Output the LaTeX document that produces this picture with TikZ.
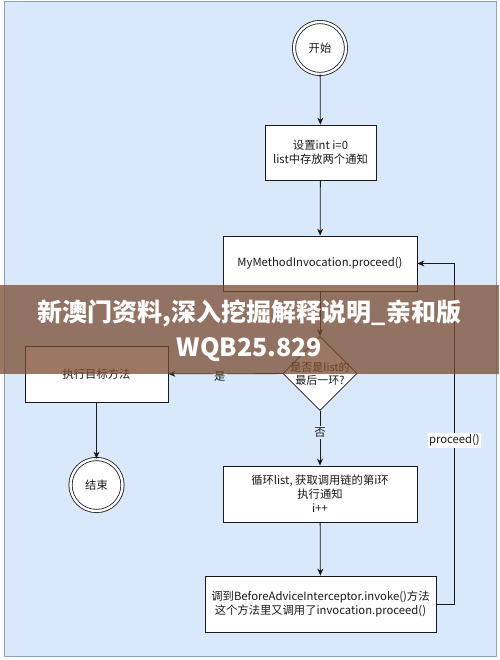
\documentclass[tikz,border=0pt]{standalone}
\usepackage{fontspec}
\setmainfont{Noto Sans CJK SC}
\usepackage{xcolor}
\usepackage{tikz}
\usetikzlibrary{arrows.meta, positioning, shapes.geometric, calc}
\definecolor{canvasblue}{RGB}{218,232,252}
\definecolor{canvasedge}{RGB}{140,162,196}
\definecolor{bannerbrown}{RGB}{123,76,49}
\definecolor{inkline}{RGB}{25,25,25}

\begin{document}
\begin{tikzpicture}[x=1pt, y=-1pt,
    every node/.style={font=\fontsize{11.3}{14}\selectfont, text=inkline},
    flowline/.style={-{Stealth[length=7pt, width=6pt]}, line width=0.8pt, draw=inkline},
    procbox/.style={rectangle, draw=inkline, fill=white, line width=0.8pt,
                    align=center, minimum height=55pt, inner sep=0pt},
    termc/.style={circle, draw=inkline, fill=white, double, double distance=2.4pt,
                  line width=0.8pt, minimum size=52pt, inner sep=0pt},
    decide/.style={diamond, draw=inkline, fill=white, line width=0.8pt,
                   minimum width=74pt, minimum height=74pt, inner sep=0pt},
    edgetext/.style={fill=canvasblue, inner sep=1.5pt}
]
% --- Fondo ---
\fill[white] (0,0) rectangle (499,660);
\draw[fill=canvasblue, draw=canvasedge, line width=0.8pt] (4,1.5) rectangle (496,656);

% --- Columna principal ---
\node[termc] (start) at (320,48) {开始};
\node[procbox, minimum width=111pt] (init) at (320.5,152.5) {设置int i=0\\list中存放两个通知};
\node[procbox, minimum width=194pt] (invoke) at (320,263.5) {MyMethodInvocation.proceed()};
\node[decide, label={[align=center, font=\fontsize{11}{13}\selectfont]center:是否是list的\\最后一环?}]
    (check) at (320,373.5) {};
\node[procbox, minimum width=194pt, minimum height=56pt] (loop) at (320,494)
    {循环list, 获取调用链的第i环\\执行通知\\i++};
\node[procbox, minimum width=231pt, minimum height=56pt] (advice) at (320.5,604)
    {调到BeforeAdviceInterceptor.invoke()方法\\这个方法里又调用了invocation.proceed()};

% --- Columna izquierda ---
\node[procbox, minimum width=143pt, minimum height=56pt] (target) at (96.5,374) {执行目标方法};
\node[termc] (finish) at (96.5,485) {结束};

% --- Conectores ---
\draw[flowline] (start) -- (init);
\draw[flowline] (init) -- (invoke);
\draw[flowline] (invoke) -- (check);
\draw[flowline] (check) -- (loop) node[pos=0.4, edgetext] (nolbl) {否};
\draw[flowline] (check) -- (target) node[pos=0.55, edgetext, yshift=-3pt] (yeslbl) {是};
\draw[flowline] (target) -- (finish);
\draw[flowline] (loop) -- (advice);
\draw[flowline] (advice.east) -- ++(18,0) coordinate (turn)
    |- (invoke.east) node[pos=0.24, fill=white, inner sep=1.5pt] (backlbl) {proceed()};

% --- Banda superpuesta ---
\fill[bannerbrown, opacity=0.75] (0,285) rectangle (499,374);
\node[font=\fontsize{25}{30}\bfseries, text=white] (bannerA) at (249.5,314) {新澳门资料,深入挖掘解释说明\_亲和版};
\node[font=\fontsize{25}{30}\bfseries, text=white] (bannerB) at (249.5,350) {WQB25.829};
\end{tikzpicture}
\end{document}
